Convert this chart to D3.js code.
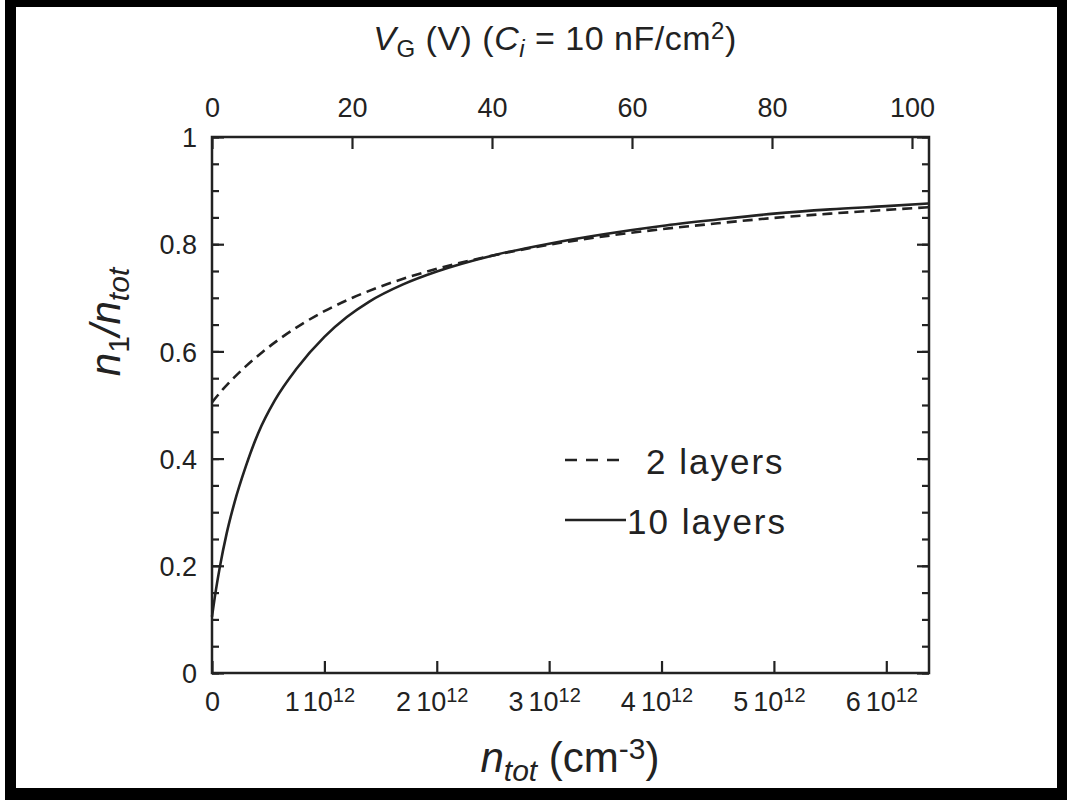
<!DOCTYPE html>
<html><head><meta charset="utf-8">
<script src="https://cdn.jsdelivr.net/npm/d3@7"></script>
<style>
body{margin:0;background:#fff}
text{font-family:"Liberation Sans",Arial,Helvetica,sans-serif;fill:#222}
</style>
</head><body>
<svg id="c" width="1070" height="800"></svg>
<script>
// ---- data (n_tot in units of 1e12 cm^-3) ----
const nTot10 = [0, 0.035, 0.07, 0.13, 0.2, 0.3, 0.41, 0.56, 0.75, 1.0, 1.2, 1.4, 1.7, 2.0, 2.5, 3.0, 3.5, 4.0, 4.5, 5.0, 5.5, 6.0, 6.38];
const frac10 = [0.105, 0.155, 0.198, 0.26, 0.318, 0.385, 0.447, 0.509, 0.567, 0.627, 0.664, 0.693, 0.725, 0.749, 0.779, 0.801, 0.819, 0.834, 0.846, 0.857, 0.865, 0.871, 0.876];
const nTot2 = [0, 0.1, 0.2, 0.3, 0.45, 0.6, 0.8, 1.0, 1.25, 1.5, 2.0, 2.5, 3.0, 3.5, 4.0, 4.5, 5.0, 5.5, 6.0, 6.38];
const frac2 = [0.505, 0.530, 0.552, 0.572, 0.599, 0.623, 0.651, 0.675, 0.700, 0.721, 0.754, 0.779, 0.799, 0.815, 0.828, 0.839, 0.849, 0.857, 0.864, 0.869];
const bottomTicks = [0, 1, 2, 3, 4, 5, 6];
const topTicks = [0, 20, 40, 60, 80, 100];
const leftMajor = [0, 0.2, 0.4, 0.6, 0.8, 1];
const leftMinor = d3.range(0, 1.0001, 0.05);
const seriesNames = ["2 layers", "10 layers"];

const svg = d3.select("#c");
// outer frame
svg.append("rect").attr("x",5).attr("y",0).attr("width",1062).attr("height",800).attr("fill","#000");
svg.append("rect").attr("x",16).attr("y",7).attr("width",1041).attr("height",781).attr("fill","#fff");

const L=212, R=929, T=137, B=673;
const x = d3.scaleLinear().domain([0,6.38]).range([L,R]);
const xTop = d3.scaleLinear().domain([0,102.43]).range([L,R]);
const y = d3.scaleLinear().domain([0,1]).range([B,T]);

const ink = "#222";
function styleAxis(g){ g.select(".domain").remove(); g.selectAll("line").attr("stroke",ink).attr("stroke-width",2.2); g.selectAll("text").style("font-size","27px").attr("fill",ink); }

// left axis
svg.append("g").attr("transform",`translate(${L},0)`)
  .call(d3.axisLeft(y).tickValues(leftMinor).tickSize(-7).tickFormat("")).call(styleAxis);
svg.append("g").attr("transform",`translate(${L},0)`)
  .call(d3.axisLeft(y).tickValues(leftMajor).tickSize(-12).tickPadding(15).tickFormat(d3.format("~g"))).call(styleAxis)
  .selectAll("text").attr("dy","0.36em");
// right axis
svg.append("g").attr("transform",`translate(${R},0)`)
  .call(d3.axisRight(y).tickValues(leftMinor).tickSize(-7).tickFormat("")).call(styleAxis);
svg.append("g").attr("transform",`translate(${R},0)`)
  .call(d3.axisRight(y).tickValues(leftMajor).tickSize(-12).tickFormat("")).call(styleAxis);

// bottom axis
const gb = svg.append("g").attr("transform",`translate(0,${B})`)
  .call(d3.axisBottom(x).tickValues(bottomTicks).tickSize(-12).tickFormat("")).call(styleAxis);
gb.selectAll(".tick").append("text").attr("y",38).attr("text-anchor","middle").style("font-size","27px").attr("fill",ink)
  .each(function(d){
    const t=d3.select(this);
    if(d===0){ t.text("0"); return; }
    t.attr("dx",-5);
    t.append("tspan").text(String(d));
    t.append("tspan").attr("dx",5).text("10");
    t.append("tspan").attr("dy","-0.45em").style("font-size","20px").text("12");
  });

// top axis
svg.append("g").attr("transform",`translate(0,${T})`)
  .call(d3.axisTop(xTop).tickValues(topTicks).tickSize(-12).tickPadding(20).tickFormat(d3.format("d"))).call(styleAxis);

// plot box
svg.append("rect").attr("x",L).attr("y",T).attr("width",R-L).attr("height",B-T)
  .attr("fill","none").attr("stroke",ink).attr("stroke-width",2.5);

// curves
const line = d3.line().x(d=>x(d[0])).y(d=>y(d[1])).curve(d3.curveMonotoneX);
svg.append("path").datum(nTot10.map((v,i)=>[v,frac10[i]])).attr("d",line)
  .attr("fill","none").attr("stroke",ink).attr("stroke-width",2.6);
svg.append("path").datum(nTot2.map((v,i)=>[v,frac2[i]])).attr("d",line)
  .attr("fill","none").attr("stroke",ink).attr("stroke-width",2.6).attr("stroke-dasharray","10,6");

// legend
const leg = svg.append("g");
leg.append("line").attr("x1",565).attr("x2",628).attr("y1",460).attr("y2",460).attr("stroke",ink).attr("stroke-width",2.6).attr("stroke-dasharray","12,9");
leg.append("text").attr("x",646).attr("y",474).style("font-size","35px").style("letter-spacing","2px").text(seriesNames[0]);
leg.append("line").attr("x1",565).attr("x2",626).attr("y1",520).attr("y2",520).attr("stroke",ink).attr("stroke-width",2.6);
leg.append("text").attr("x",627).attr("y",534).style("font-size","35px").style("letter-spacing","2px").text(seriesNames[1]);

// top title
const tt = svg.append("text").attr("x",555).attr("y",50).attr("text-anchor","middle").style("font-size","34px").style("letter-spacing","0.5px");
tt.append("tspan").style("font-style","italic").text("V");
tt.append("tspan").attr("dy","0.3em").style("font-size","24px").text("G");
tt.append("tspan").attr("dy","-0.21em").text(" (V) (");
tt.append("tspan").style("font-style","italic").text("C");
tt.append("tspan").attr("dy","0.3em").style("font-size","24px").style("font-style","italic").text("i");
tt.append("tspan").attr("dy","-0.21em").text(" = 10 nF/cm");
tt.append("tspan").attr("dy","-0.45em").style("font-size","24px").text("2");
tt.append("tspan").attr("dy","0.32em").text(")");

// bottom title
const bt = svg.append("text").attr("x",570).attr("y",772).attr("text-anchor","middle").style("font-size","42px");
bt.append("tspan").style("font-style","italic").text("n");
bt.append("tspan").attr("dy","0.3em").style("font-size","30px").style("font-style","italic").text("tot");
bt.append("tspan").attr("dy","-0.21em").text(" (cm");
bt.append("tspan").attr("dy","-0.45em").style("font-size","30px").text("-3");
bt.append("tspan").attr("dy","0.32em").text(")");

// y title
const yt = svg.append("text").attr("transform","translate(120,322) rotate(-90)").attr("text-anchor","middle").style("font-size","42px");
yt.append("tspan").style("font-style","italic").text("n");
yt.append("tspan").attr("dy","0.3em").style("font-size","30px").text("1");
yt.append("tspan").attr("dy","-0.21em").style("font-style","italic").text("/n");
yt.append("tspan").attr("dy","0.3em").style("font-size","30px").style("font-style","italic").text("tot");
</script>
</body></html>
